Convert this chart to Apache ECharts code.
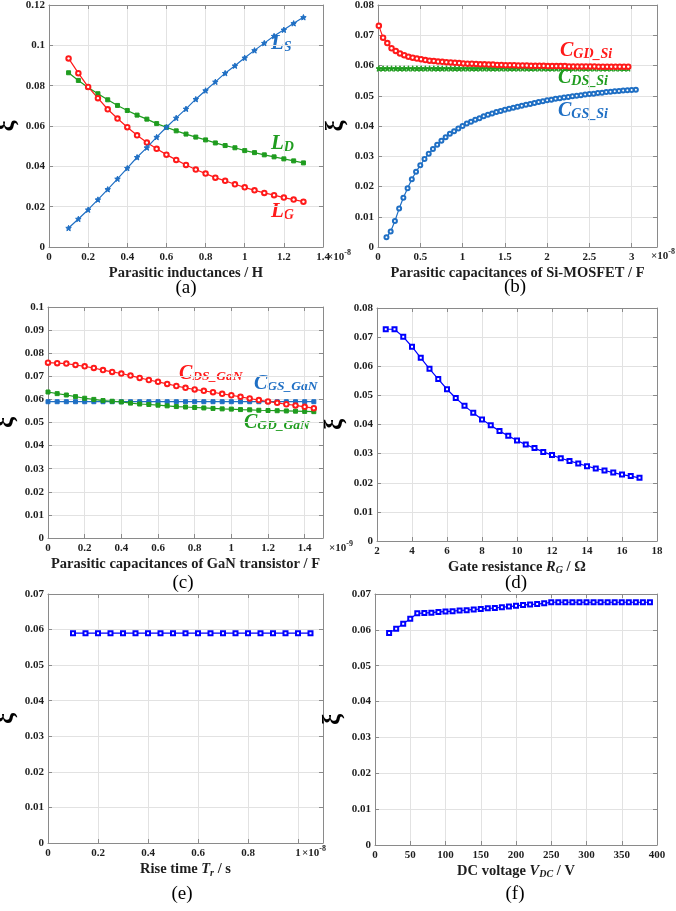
<!DOCTYPE html>
<html>
<head>
<meta charset="utf-8">
<script src="https://cdn.jsdelivr.net/npm/echarts@6/dist/echarts.min.js"></script>
<style>
html,body{margin:0;padding:0;background:#fff;}
#chart{width:676px;height:911px;}
</style>
</head>
<body>
<div id="chart"></div>
<script>
// ---------- (a) parasitic inductances (x in 1e-8 H) ----------
const aX = [0.10,0.15,0.20,0.25,0.30,0.35,0.40,0.45,0.50,0.55,0.60,0.65,0.70,0.75,0.80,0.85,0.90,0.95,1.00,1.05,1.10,1.15,1.20,1.25,1.30];
const aLS = [0.0094,0.0139,0.0185,0.0235,0.0286,0.0338,0.0391,0.0445,0.0493,0.0545,0.0594,0.0640,0.0685,0.0733,0.0776,0.0819,0.0862,0.0899,0.0938,0.0975,0.1011,0.1046,0.1077,0.1109,0.1139];
const aLD = [0.0864,0.0826,0.0791,0.0760,0.0730,0.0702,0.0677,0.0654,0.0634,0.0612,0.0594,0.0576,0.0560,0.0545,0.0531,0.0516,0.0503,0.0492,0.0478,0.0468,0.0457,0.0447,0.0437,0.0427,0.0417];
const aLG = [0.0935,0.0862,0.0794,0.0738,0.0683,0.0637,0.0594,0.0554,0.0518,0.0487,0.0458,0.0432,0.0407,0.0384,0.0364,0.0344,0.0328,0.0311,0.0296,0.0281,0.0268,0.0257,0.0245,0.0235,0.0225];

// ---------- (b) Si-MOSFET capacitances (x in 1e-8 F) ----------
const bX1 = [0.01,0.06,0.11,0.16,0.21,0.26,0.31,0.36,0.41,0.46,
             0.51,0.56,0.61,0.66,0.71,0.76,0.81,0.86,0.91,0.96,
             1.01,1.06,1.11,1.16,1.21,1.26,1.31,1.36,1.41,1.46,
             1.51,1.56,1.61,1.66,1.71,1.76,1.81,1.86,1.91,1.96,
             2.01,2.06,2.11,2.16,2.21,2.26,2.31,2.36,2.41,2.46,
             2.51,2.56,2.61,2.66,2.71,2.76,2.81,2.86,2.91,2.96];
const bGD = [0.0731,0.0692,0.0674,0.0657,0.0648,0.0640,0.0634,0.0629,0.0626,0.0623,
             0.0621,0.0618,0.0616,0.0615,0.0613,0.0612,0.0611,0.0610,0.0609,0.0608,
             0.0607,0.0606,0.0606,0.0605,0.0604,0.0604,0.0603,0.0603,0.0602,0.0602,
             0.0601,0.0601,0.0601,0.0600,0.0600,0.0600,0.0599,0.0599,0.0599,0.0599,
             0.0598,0.0598,0.0598,0.0598,0.0598,0.0597,0.0597,0.0597,0.0597,0.0597,
             0.0597,0.0597,0.0596,0.0596,0.0596,0.0596,0.0596,0.0596,0.0596,0.0596];
const bDS = [0.059,0.059,0.059,0.059,0.059,0.059,0.059,0.059,0.059,0.059,
             0.059,0.059,0.059,0.059,0.059,0.059,0.059,0.059,0.059,0.059,
             0.059,0.059,0.059,0.059,0.059,0.059,0.059,0.059,0.059,0.059,
             0.059,0.059,0.059,0.059,0.059,0.059,0.059,0.059,0.059,0.059,
             0.059,0.059,0.059,0.059,0.059,0.059,0.059,0.059,0.059,0.059,
             0.059,0.059,0.059,0.059,0.059,0.059,0.059,0.059,0.059,0.059];
const bX2 = [0.10,0.15,0.20,0.25,0.30,0.35,0.40,0.45,0.50,0.55,
             0.60,0.65,0.70,0.75,0.80,0.85,0.90,0.95,1.00,1.05,
             1.10,1.15,1.20,1.25,1.30,1.35,1.40,1.45,1.50,1.55,
             1.60,1.65,1.70,1.75,1.80,1.85,1.90,1.95,2.00,2.05,
             2.10,2.15,2.20,2.25,2.30,2.35,2.40,2.45,2.50,2.55,
             2.60,2.65,2.70,2.75,2.80,2.85,2.90,2.95,3.00,3.05];
const bGS = [0.0032,0.0051,0.0086,0.0127,0.0163,0.0194,0.0224,0.0249,0.0270,0.0291,
             0.0308,0.0324,0.0338,0.0351,0.0363,0.0374,0.0383,0.0392,0.0400,0.0408,
             0.0414,0.0421,0.0426,0.0432,0.0437,0.0441,0.0446,0.0450,0.0454,0.0457,
             0.0460,0.0464,0.0467,0.0470,0.0473,0.0476,0.0479,0.0482,0.0485,0.0487,
             0.0490,0.0492,0.0494,0.0496,0.0498,0.0500,0.0502,0.0504,0.0506,0.0507,
             0.0509,0.0510,0.0512,0.0513,0.0515,0.0516,0.0517,0.0518,0.0519,0.0520];

// ---------- (c) GaN transistor capacitances (x in 1e-9 F) ----------
const cX = [0,0.05,0.10,0.15,0.20,0.25,0.30,0.35,0.40,0.45,0.50,0.55,0.60,0.65,0.70,
            0.75,0.80,0.85,0.90,0.95,1.00,1.05,1.10,1.15,1.20,1.25,1.30,1.35,1.40,1.45];
const cDS = [0.0759,0.0757,0.0755,0.0749,0.0743,0.0736,0.0727,0.0719,0.0712,0.0703,0.0693,0.0684,0.0676,0.0667,0.0658,
             0.0650,0.0643,0.0637,0.0631,0.0624,0.0618,0.0611,0.0604,0.0597,0.0591,0.0585,0.0579,0.0574,0.0568,0.0562];
const cGS = [0.059,0.059,0.059,0.059,0.059,0.059,0.059,0.059,0.059,0.059,0.059,0.059,0.059,0.059,0.059,
             0.059,0.059,0.059,0.059,0.059,0.059,0.059,0.059,0.059,0.059,0.059,0.059,0.059,0.059,0.059];
const cGD = [0.0632,0.0625,0.0619,0.0612,0.0605,0.0600,0.0595,0.0592,0.0589,0.0584,0.0580,0.0578,0.0575,0.0572,0.0569,
             0.0567,0.0565,0.0563,0.0561,0.0559,0.0558,0.0556,0.0555,0.0553,0.0552,0.0551,0.0550,0.0549,0.0548,0.0547];

// ---------- (d) gate resistance ----------
const dX = [2.5,3,3.5,4,4.5,5,5.5,6,6.5,7,7.5,8,8.5,9,9.5,10,10.5,11,11.5,12,12.5,13,13.5,14,14.5,15,15.5,16,16.5,17];
const dV = [0.0727,0.0727,0.0701,0.0667,0.0629,0.0591,0.0556,0.0521,0.0491,0.0464,0.0440,0.0417,0.0397,0.0378,0.0361,
            0.0345,0.0331,0.0319,0.0306,0.0295,0.0284,0.0275,0.0266,0.0257,0.0249,0.0242,0.0235,0.0228,0.0223,0.0217];

// ---------- (e) rise time (x in 1e-8 s) ----------
const eX = [0.10,0.15,0.20,0.25,0.30,0.35,0.40,0.45,0.50,0.55,0.60,0.65,0.70,0.75,0.80,0.85,0.90,0.95,1.00,1.05];
const eV = [0.059,0.059,0.059,0.059,0.059,0.059,0.059,0.059,0.059,0.059,0.059,0.059,0.059,0.059,0.059,0.059,0.059,0.059,0.059,0.059];

// ---------- (f) DC voltage ----------
const fX = [20,30,40,50,60,70,80,90,100,110,120,130,140,150,160,170,180,190,200,210,220,230,240,250,
            260,270,280,290,300,310,320,330,340,350,360,370,380,390];
const fV = [0.0591,0.0603,0.0617,0.0631,0.0646,0.0647,0.0648,0.0650,0.0651,0.0652,0.0654,0.0655,0.0657,0.0658,0.0660,0.0661,0.0663,0.0665,0.0667,0.0669,0.0671,0.0672,0.0674,0.0677,
            0.0677,0.0677,0.0677,0.0677,0.0677,0.0677,0.0677,0.0677,0.0677,0.0677,0.0677,0.0677,0.0677,0.0677];

// ---------- labels ----------
const panelLabels = ['(a)','(b)','(c)','(d)','(e)','(f)'];
const xNames = [
  'Parasitic inductances / H',
  'Parasitic capacitances of Si-MOSFET / F',
  'Parasitic capacitances of GaN transistor / F',
  'Gate resistance {i|R}{s|G}{n| / Ω}',
  'Rise time {i|T}{s|r}{n| / s}',
  'DC voltage {i|V}{s|DC}{n| / V}'
];
const yName = 'ξ';

// ---------- styling ----------
const FONT = '"Liberation Serif", "Times New Roman", serif';
const AX = '#8a8a8a';
const GR = '#e2e2e2';
const TXT = '#1e1e1e';
const BLUE = '#1f6fc4';
const RED = '#ff1a1a';
const GREEN = '#1f9c1f';
const PBLUE = '#0000ff';
const STAR = 'path://M0,-10L2.6,-3.6L9.5,-3.1L4.2,1.4L5.9,8.1L0,4.4L-5.9,8.1L-4.2,1.4L-9.5,-3.1L-2.6,-3.6Z';

const grids = [], xAxes = [], yAxes = [], series = [];

function fmt(step) {
  return function (v) {
    const r = Math.round(v * 1e6) / 1e6;
    const k = r / step;
    if (Math.abs(k - Math.round(k)) > 1e-6) return '';
    return String(r);
  };
}

const nameRich = {
  n: {fontFamily: FONT, fontWeight: 'bold', fontSize: 14.5, color: TXT, lineHeight: 18},
  i: {fontFamily: FONT, fontWeight: 'bold', fontStyle: 'italic', fontSize: 14.5, color: TXT, lineHeight: 18},
  s: {fontFamily: FONT, fontWeight: 'bold', fontStyle: 'italic', fontSize: 10, color: TXT, lineHeight: 10, verticalAlign: 'bottom'}
};

function panel(i, g, xs, ys) {
  grids.push({left: g[0], top: g[1], width: g[2], height: g[3], outerBoundsMode: 'none', containLabel: false});
  const common = {
    axisLine: {show: true, onZero: false, lineStyle: {color: AX, width: 1}},
    axisTick: {show: true, inside: true, length: 4, lineStyle: {color: AX}}
  };
  xAxes.push(Object.assign({
    gridIndex: i, type: 'value', position: 'bottom', min: xs.min, max: xs.max, interval: xs.interval,
    splitLine: {show: true, lineStyle: {color: GR, width: 1}},
    axisLabel: {margin: 5, color: TXT, fontFamily: FONT, fontWeight: 'bold', fontSize: 11, formatter: fmt(xs.interval), showMaxLabel: true, showMinLabel: true, hideOverlap: false},
    name: xNames[i], nameLocation: 'middle', nameGap: xs.gap,
    nameTextStyle: {fontFamily: FONT, fontWeight: 'bold', fontSize: 14.5, color: TXT, lineHeight: 18, rich: nameRich}
  }, common));
  xAxes.push(Object.assign({
    gridIndex: i, type: 'value', position: 'top', min: xs.min, max: xs.max, interval: xs.interval,
    splitLine: {show: false}, axisLabel: {show: false}
  }, common));
  yAxes.push(Object.assign({
    gridIndex: i, type: 'value', position: 'left', min: ys.min, max: ys.max, interval: ys.interval,
    splitLine: {show: true, lineStyle: {color: GR, width: 1}},
    axisLabel: {margin: 4, color: TXT, fontFamily: FONT, fontWeight: 'bold', fontSize: 11, formatter: fmt(ys.interval), showMaxLabel: true, showMinLabel: true, hideOverlap: false},
    name: yName, nameLocation: 'middle', nameGap: 29, nameRotate: 90,
    nameTextStyle: {fontFamily: FONT, fontWeight: 'bold', fontSize: 25, color: '#000'}
  }, common));
  yAxes.push(Object.assign({
    gridIndex: i, type: 'value', position: 'right', min: ys.min, max: ys.max, interval: ys.interval,
    splitLine: {show: false}, axisLabel: {show: false}
  }, common));
}

function pairs(xs, ys) { return xs.map((x, k) => [x, ys[k]]); }

function line(i, xs, ys, color, symbol, size, z) {
  series.push({
    type: 'line', xAxisIndex: 2 * i, yAxisIndex: 2 * i, data: pairs(xs, ys),
    symbol: symbol, symbolSize: size, showSymbol: true, showAllSymbol: true,
    lineStyle: {color: color, width: 1.2}, itemStyle: {color: color, borderColor: color, borderWidth: 1},
    emphasis: {disabled: true}, animation: false, z: z || 2
  });
}

panel(0, [49, 5, 274, 242],   {min: 0, max: 1.4, interval: 0.2, gap: 15}, {min: 0, max: 0.12, interval: 0.02});
panel(1, [378, 5, 279, 242],  {min: 0, max: 3.3, interval: 0.5, gap: 14}, {min: 0, max: 0.08, interval: 0.01});
panel(2, [48, 307, 275, 231], {min: 0, max: 1.5, interval: 0.2, gap: 16}, {min: 0, max: 0.1, interval: 0.01});
panel(3, [377, 308, 280, 233],{min: 2, max: 18, interval: 2, gap: 15},    {min: 0, max: 0.08, interval: 0.01});
panel(4, [48, 594, 275, 249], {min: 0, max: 1.1, interval: 0.2, gap: 17}, {min: 0, max: 0.07, interval: 0.01});
panel(5, [375, 594, 282, 251],{min: 0, max: 400, interval: 50, gap: 16},  {min: 0, max: 0.07, interval: 0.01});

line(0, aX, aLD, GREEN, 'rect', 4);
line(0, aX, aLG, RED, 'emptyCircle', 4.5);
line(0, aX, aLS, BLUE, STAR, 5.5, 3);

line(1, bX1, bDS, GREEN, STAR, 5.5);
line(1, bX1, bGD, RED, 'emptyCircle', 4.5);
line(1, bX2, bGS, BLUE, 'emptyCircle', 4);

line(2, cX, cGS, BLUE, 'rect', 4);
line(2, cX, cGD, GREEN, 'rect', 4);
line(2, cX, cDS, RED, 'emptyCircle', 4.5);

line(3, dX, dV, PBLUE, 'emptyRect', 4);
line(4, eX, eV, PBLUE, 'emptyRect', 4);
line(5, fX, fV, PBLUE, 'emptyRect', 4);

// ---------- graphic texts ----------
const graphic = [];
const labelPos = [[186, 288], [515, 287], [183, 583], [516, 583], [182, 894], [515, 894]];
panelLabels.forEach((t, k) => {
  graphic.push({type: 'text', x: labelPos[k][0], y: labelPos[k][1], silent: true,
    style: {text: t, align: 'center', verticalAlign: 'middle', textAlign: 'center', textVerticalAlign: 'middle',
            fontFamily: FONT, fontSize: 19, fill: '#000'}});
});

function expo(left, top, p) {
  graphic.push({type: 'text', left: left, top: top, silent: true,
    style: {text: '{b|×10}{p|' + p + '}', rich: {
      b: {fontFamily: FONT, fontWeight: 'bold', fontSize: 11, fill: TXT, lineHeight: 14, verticalAlign: 'bottom'},
      p: {fontFamily: FONT, fontWeight: 'bold', fontSize: 8, fill: TXT, lineHeight: 8, verticalAlign: 'top'}
    }}});
}
expo(327, 249, '-8');
expo(651, 248, '-8');
expo(329, 540, '-9');
expo(302, 845, '-8');

function ann(left, top, main, sub, color, mainSize, subSize) {
  graphic.push({type: 'text', left: left, top: top, silent: true,
    style: {text: '{c|' + main + '}{s|' + sub + '}', rich: {
      c: {fontFamily: FONT, fontWeight: 'bold', fontStyle: 'italic', fontSize: mainSize, fill: color, lineHeight: mainSize + 3, verticalAlign: 'bottom'},
      s: {fontFamily: FONT, fontWeight: 'bold', fontStyle: 'italic', fontSize: subSize, fill: color, lineHeight: subSize, verticalAlign: 'bottom'}
    }}});
}
ann(271, 33, 'L', 'S', BLUE, 21, 14);
ann(271, 133, 'L', 'D', GREEN, 21, 14);
ann(271, 201, 'L', 'G', RED, 21, 14);
ann(560, 41, 'C', 'GD_Si', RED, 20, 14);
ann(558, 68, 'C', 'DS_Si', GREEN, 20, 14);
ann(558, 101, 'C', 'GS_Si', BLUE, 20, 14);
ann(179, 364, 'C', 'DS_GaN', RED, 20, 13.5);
ann(254, 374, 'C', 'GS_GaN', BLUE, 20, 13.5);
ann(244, 413, 'C', 'GD_GaN', GREEN, 20, 13.5);

const chart = echarts.init(document.getElementById('chart'), null, {renderer: 'canvas'});
chart.setOption({
  animation: false,
  backgroundColor: '#fff',
  grid: grids, xAxis: xAxes, yAxis: yAxes, series: series, graphic: graphic
});
</script>
</body>
</html>
